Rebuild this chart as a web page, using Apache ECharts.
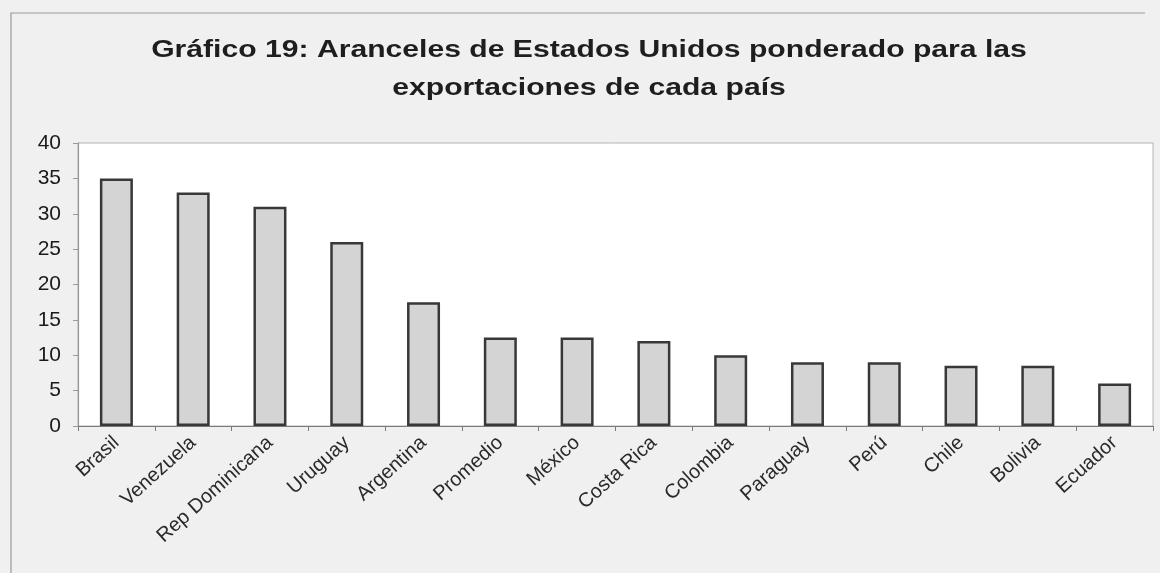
<!DOCTYPE html>
<html>
<head>
<meta charset="utf-8">
<script src="https://cdn.jsdelivr.net/npm/echarts@6/dist/echarts.min.js"></script>
<style>
  html, body { margin: 0; padding: 0; background: #f0f0f0; }
  #chart { width: 1160px; height: 573px; }
</style>
</head>
<body>
<div id="chart"></div>
<script>
// Aranceles de Estados Unidos ponderados, por país exportador
const categories = ['Brasil', 'Venezuela', 'Rep Dominicana', 'Uruguay', 'Argentina', 'Promedio',
  'México', 'Costa Rica', 'Colombia', 'Paraguay', 'Perú', 'Chile', 'Bolivia', 'Ecuador'];
const tariffs = [35, 33, 31, 26, 17.5, 12.5, 12.5, 12, 10, 9, 9, 8.5, 8.5, 6];
const yTicks = [0, 5, 10, 15, 20, 25, 30, 35, 40];
const titleLines = [
  'Gráfico 19: Aranceles de Estados Unidos ponderado para las',
  'exportaciones de cada país'
];

const chart = echarts.init(document.getElementById('chart'), null, { renderer: 'canvas' });

const titleFont = 'bold 23px "Liberation Sans", Arial, sans-serif';

chart.setOption({
  backgroundColor: '#f0f0f0',
  animation: false,
  graphic: [
    // outer frame of the chart sheet
    { type: 'polyline', silent: true,
      shape: { points: [[11, 573], [11, 13], [1145, 13]] },
      style: { stroke: '#9a9a9a', lineWidth: 1.2, fill: null } },
    { type: 'text', x: 589, y: 51, scaleX: 1.31,
      style: { text: titleLines[0], font: titleFont, fill: '#1e1e1e',
        textAlign: 'center', textVerticalAlign: 'middle' } },
    { type: 'text', x: 589, y: 89, scaleX: 1.31,
      style: { text: titleLines[1], font: titleFont, fill: '#1e1e1e',
        textAlign: 'center', textVerticalAlign: 'middle' } }
  ],
  grid: {
    left: 78, right: 7, top: 143, bottom: 147,
    show: true, backgroundColor: '#ffffff', borderColor: '#b4b4b4', borderWidth: 1
  },
  xAxis: {
    type: 'category',
    data: categories,
    axisLine: { lineStyle: { color: '#7a7a7a', width: 1.2 } },
    axisTick: { show: true, alignWithLabel: false, length: 5, lineStyle: { color: '#7a7a7a' } },
    axisLabel: {
      rotate: 42, margin: 14, interval: 0,
      color: '#2a2a2a', fontSize: 20,
      fontFamily: '"Liberation Sans", Arial, sans-serif'
    }
  },
  yAxis: {
    type: 'value',
    min: yTicks[0], max: yTicks[yTicks.length - 1], interval: yTicks[1] - yTicks[0],
    axisLine: { show: true, lineStyle: { color: '#9a9a9a', width: 1.2 } },
    axisTick: { show: true, length: 5, lineStyle: { color: '#9a9a9a' } },
    splitLine: { show: false },
    axisLabel: {
      margin: 17, color: '#1a1a1a', fontSize: 21,
      fontFamily: '"Liberation Sans", Arial, sans-serif'
    }
  },
  series: [{
    type: 'bar',
    data: tariffs,
    barWidth: 33,
    itemStyle: { color: '#d4d4d4', borderColor: '#383838', borderWidth: 2.5 }
  }]
});
</script>
</body>
</html>
